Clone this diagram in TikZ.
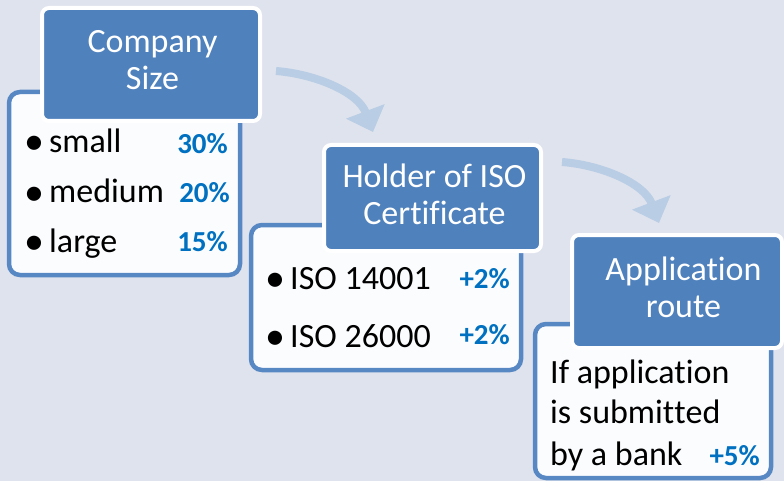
\documentclass[tikz,border=0pt]{standalone}
\usepackage{fontspec}
\setmainfont[Ligatures={NoCommon,NoRequired,NoContextual},Contextuals={NoAlternate}]{Carlito}
\usetikzlibrary{arrows.meta}
\definecolor{bgc}{RGB}{223,227,237}
\definecolor{hdrblue}{RGB}{79,129,189}
\definecolor{brdblue}{RGB}{88,136,196}
\definecolor{boxfill}{RGB}{251,252,254}
\definecolor{pctblue}{RGB}{0,112,192}
\definecolor{arrowc}{RGB}{185,205,229}
\newcommand\mybul{\makebox[24.5pt][l]{\hspace{-0.5pt}\raisebox{-2pt}{\fontsize{40}{40}\selectfont\textbullet}}}
\newcommand\nl{\kern0pt }
\begin{document}
\begin{tikzpicture}[x=1pt,y=-1pt,
  bodybox/.style={draw=brdblue,line width=4.5pt,fill=boxfill,rounded corners=11pt,inner sep=0pt},
  hdrbox/.style={draw=white,line width=4pt,fill=hdrblue,rounded corners=7pt,inner sep=0pt},
  htext/.style={anchor=base,inner sep=0pt,text=white,font=\fontsize{34}{37}\selectfont},
  itemtext/.style={anchor=base west,inner sep=0pt,text=black,font=\fontsize{34}{41}\selectfont},
  pct/.style={anchor=base east,inner sep=0pt,text=pctblue,font=\fontsize{29}{30}\selectfont\bfseries},
  flowarrow/.style={draw=arrowc,line width=8pt,-{Triangle[width=40pt,length=22pt]}}
]
\useasboundingbox (0,0) rectangle (784,481);
\fill[bgc] (0,0) rectangle (784,481);

% Box 1
\node[bodybox,minimum width=231pt,minimum height=183pt] (b1) at (124.5,183.5) {};
\node[hdrbox,minimum width=218pt,minimum height=113pt] (h1) at (151,64.5) {};
\node[htext] (h1a) at (152.5,53) {Company};
\node[htext] (h1b) at (152.5,90) {Size};
\node[itemtext] (i1a) at (24.5,153) {\mybul small};
\node[itemtext] (i1b) at (24.5,203) {\mybul medium};
\node[itemtext] (i1c) at (24.5,252) {\mybul large};
\node[pct] (p1a) at (228,154) {30\%};
\node[pct] (p1b) at (230,203) {20\%};
\node[pct] (p1c) at (228,251) {15\%};

% Box 2
\node[bodybox,minimum width=270pt,minimum height=145pt] (b2) at (386,297.5) {};
\node[hdrbox,minimum width=217pt,minimum height=106pt] (h2) at (432.5,198) {};
\node[htext] (h2a) at (434.5,188) {Holder of ISO};
\node[htext] (h2b) at (434.5,225) {Certif\nl icate};
\node[itemtext] (i2a) at (265.5,289) {\mybul ISO 14001};
\node[itemtext] (i2b) at (265.5,347) {\mybul ISO 26000};
\node[pct] (p2a) at (510,288) {+2\%};
\node[pct] (p2b) at (510,344) {+2\%};

% Box 3
\node[bodybox,minimum width=236pt,minimum height=154pt] (b3) at (653,401) {};
\node[hdrbox,minimum width=210pt,minimum height=113pt] (h3) at (677,291.5) {};
\node[htext] (h3a) at (683.5,280) {Applicat\nl ion};
\node[htext] (h3b) at (683.5,317) {route};
\node[itemtext] (t3a) at (550,383) {If applicat\nl ion};
\node[itemtext] (t3b) at (550,423) {is submit\nl t\nl ed};
\node[itemtext] (t3c) at (550,465) {by a bank};
\node[pct] (p3) at (760,465) {+5\%};

% Arrows
\coordinate (a1s) at (276,71);
\coordinate (a1e) at (373,132);
\coordinate (a2s) at (562,162);
\coordinate (a2e) at (659,223);
\draw[flowarrow] (a1s) .. controls (315,74) and (358,92) .. (a1e);
\draw[flowarrow] (a2s) .. controls (601,165) and (644,183) .. (a2e);
\end{tikzpicture}
\end{document}
